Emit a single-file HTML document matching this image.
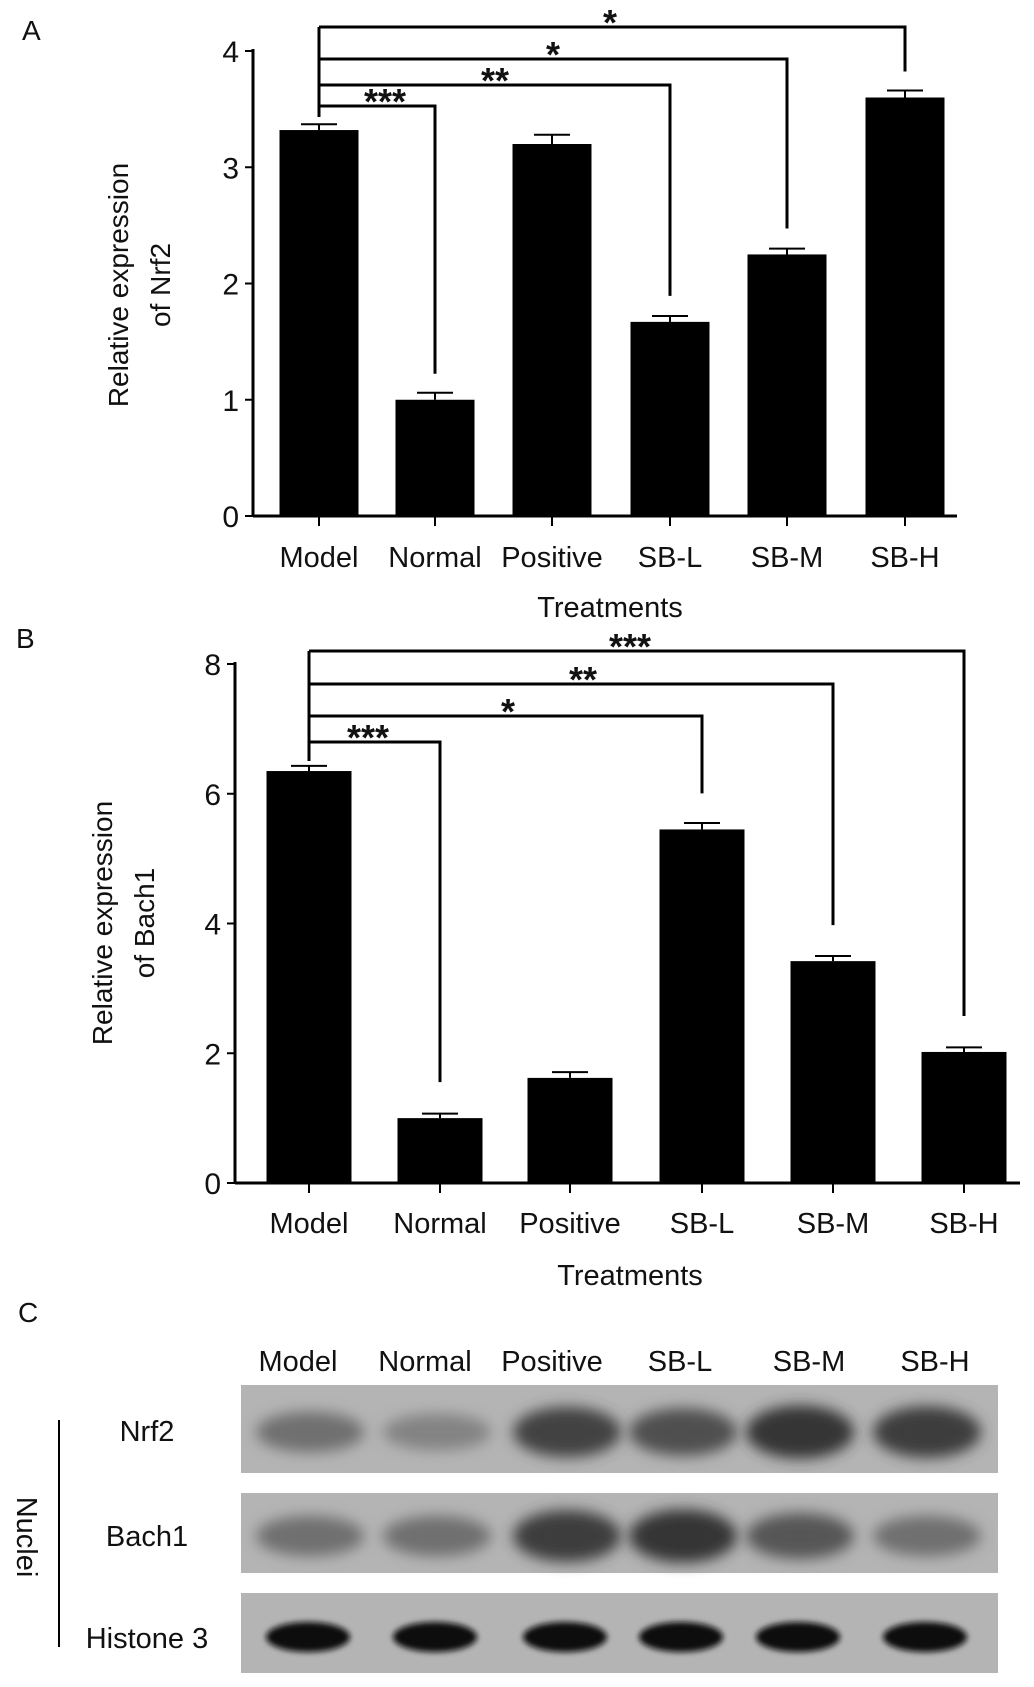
<!DOCTYPE html>
<html><head><meta charset="utf-8"><style>
html,body{margin:0;padding:0;background:#fff}
svg{display:block}
text{font-family:"Liberation Sans",sans-serif;fill:#111}
</style></head><body>
<svg id="fig" width="1034" height="1687" viewBox="0 0 1034 1687" xmlns="http://www.w3.org/2000/svg">
<defs>
<filter id="blur4" x="-50%" y="-80%" width="200%" height="260%"><feGaussianBlur stdDeviation="7"/></filter>
<filter id="blur2" x="-50%" y="-50%" width="200%" height="200%"><feGaussianBlur stdDeviation="3"/></filter>
</defs>
<text x="22" y="40" font-size="28">A</text>
<g id="chartA"></g>
<text x="16" y="648" font-size="28">B</text>
<g id="chartB"></g>
<text x="18" y="1322" font-size="28">C</text>
<g id="blot"></g>
</svg>
<script>
const categories = ["Model","Normal","Positive","SB-L","SB-M","SB-H"];
const nrf2Values = [3.32, 1.0, 3.2, 1.67, 2.25, 3.6];
const nrf2Errors = [0.05, 0.06, 0.08, 0.05, 0.05, 0.06];
const nrf2Ticks = [0,1,2,3,4];
const nrf2Sig = [{to:1,label:"***"},{to:3,label:"**"},{to:4,label:"*"},{to:5,label:"*"}];
const bach1Values = [6.35, 1.0, 1.62, 5.45, 3.42, 2.02];
const bach1Errors = [0.08, 0.07, 0.09, 0.1, 0.08, 0.07];
const bach1Ticks = [0,2,4,6,8];
const bach1Sig = [{to:1,label:"***"},{to:3,label:"*"},{to:4,label:"**"},{to:5,label:"***"}];
const blotRows = ["Nrf2","Bach1","Histone 3"];
const nrf2Band = [0.45, 0.3, 0.8, 0.7, 0.9, 0.85];
const bach1Band = [0.45, 0.45, 0.85, 0.9, 0.65, 0.45];
const histoneBand = [1,1,1,1,1,1];

const NS="http://www.w3.org/2000/svg";
function mk(parent, tag, attrs){const e=document.createElementNS(NS,tag);for(const k in attrs)e.setAttribute(k,attrs[k]);parent.appendChild(e);return e;}

function drawChart(g, cfg){
  const yS=v=>cfg.y0-(v/cfg.max)*(cfg.y0-cfg.yTop);
  const xS=i=>cfg.cx[i];
  let a=mk(g,"line",{x1:cfg.ax,y1:cfg.yTop-2,x2:cfg.ax,y2:cfg.y0,stroke:"#000","stroke-width":3});
  
  
  a=mk(g,"line",{x1:cfg.ax,y1:cfg.y0,x2:cfg.axEnd,y2:cfg.y0,stroke:"#000","stroke-width":3});
  
  
  cfg.ticks.forEach(t=>{
    const y=yS(t);
    const l=mk(g,"line",{x1:cfg.ax-8,y1:y,x2:cfg.ax,y2:y,stroke:"#000","stroke-width":2});
    
    
    const tx=mk(g,"text",{x:cfg.ax-14,y:y+11,"font-size":30,"text-anchor":"end"});
    tx.textContent=t;
    
    
  });
  cfg.values.forEach((v,i)=>{
    const cx=xS(i), w=cfg.bw;
    const r=mk(g,"rect",{x:cx-w/2,y:yS(v),width:w,height:cfg.y0-yS(v),fill:"#000"});
    
    
    const ye=yS(v+cfg.err[i]);
    const e1=mk(g,"path",{d:`M${cx},${yS(v)} V${ye} M${cx-18},${ye} H${cx+18}`,stroke:"#000","stroke-width":2,fill:"none"});
    
    
    const tk=mk(g,"line",{x1:cx,y1:cfg.y0,x2:cx,y2:cfg.y0+10,stroke:"#000","stroke-width":2});
    
    
    const lb=mk(g,"text",{x:cx,y:cfg.labY,"font-size":29,"text-anchor":"middle"});
    lb.textContent=categories[i];
    
    
  });
  const tt=mk(g,"text",{x:cfg.ttX,y:cfg.ttY,"font-size":29,"text-anchor":"middle"});
  tt.textContent="Treatments";
  
  
  const yt=mk(g,"text",{transform:`translate(${cfg.ytX},${cfg.ytY}) rotate(-90)`,"font-size":28,"text-anchor":"middle"});
  
  
  const t1=mk(yt,"tspan",{x:0,dy:0});t1.textContent="Relative expression";
  const t2=mk(yt,"tspan",{x:0,dy:42});t2.textContent=cfg.ytitle2;
  const x0=xS(0);
  const topY=Math.min(...cfg.sigY);
  const v=mk(g,"line",{x1:x0,y1:topY,x2:x0,y2:cfg.modelDrop,stroke:"#000","stroke-width":3});
  
  
  cfg.sig.forEach((s,k)=>{
    const y=cfg.sigY[k], x1=xS(s.to);
    const p=mk(g,"path",{d:`M${x0},${y} H${x1} V${yS(cfg.values[s.to])-cfg.dropGap}`,stroke:"#000","stroke-width":3,fill:"none"});
    
    
    const st=mk(g,"text",{x:cfg.starX[k],y:y+8,"font-size":36,"font-weight":"bold","text-anchor":"middle"});
    st.textContent=s.label;
    
    
  });
}

drawChart(document.getElementById("chartA"),{
  values:nrf2Values, err:nrf2Errors, ticks:nrf2Ticks, sig:nrf2Sig, max:4,
  ax:253, axEnd:957, y0:516, yTop:51, cx:[319,435,552,670,787,905], bw:79,
  labY:567, ttX:610, ttY:617, ytX:128, ytY:285, ytitle2:"of Nrf2",
  sigY:[106,85,59,27], modelDrop:117, dropGap:26, starX:[385,495,553,610]
});
drawChart(document.getElementById("chartB"),{
  values:bach1Values, err:bach1Errors, ticks:bach1Ticks, sig:bach1Sig, max:8,
  ax:235, axEnd:1020, y0:1183, yTop:664, cx:[309,440,570,702,833,964], bw:85,
  labY:1233, ttX:630, ttY:1285, ytX:112, ytY:923, ytitle2:"of Bach1",
  sigY:[742,716,684,651], modelDrop:761, dropGap:36, starX:[368,508,583,630]
});

const blot=document.getElementById("blot");
const lanes=[310,437,567,683,800,927];
const colLabelX=[298,425,552,680,809,935];
categories.forEach((c,i)=>{
  const t=mk(blot,"text",{x:colLabelX[i],y:1371,"font-size":29,"text-anchor":"middle"});
  t.textContent=c;
  
  
});
const rowBox=[[1385,88],[1493,80],[1593,80]];
const rowLabY=[1441,1546,1648];
const bandSets=[nrf2Band,bach1Band,histoneBand];
blotRows.forEach((r,k)=>{
  const [y,h]=rowBox[k];
  const box=mk(blot,"rect",{x:241,y:y,width:757,height:h,fill:"#b4b4b4"});
  
  
  const cy=y+h/2+(k===2?4:3);
  bandSets[k].forEach((b,i)=>{
    let el;
    if(k===2){
      el=mk(blot,"ellipse",{cx:lanes[i]-2,cy:cy,rx:42,ry:15,fill:"#111",filter:"url(#blur2)"});
    }else{
      const g=Math.round(170-b*130);
      el=mk(blot,"ellipse",{cx:lanes[i],cy:cy,rx:54,ry:14+b*14,fill:`rgb(${g},${g},${g})`,filter:"url(#blur4)"});
    }
    
    
  });
  const t=mk(blot,"text",{x:147,y:rowLabY[k],"font-size":29,"text-anchor":"middle"});
  t.textContent=r;
  
  
});
const vl=mk(blot,"line",{x1:59,y1:1420,x2:59,y2:1647,stroke:"#000","stroke-width":2});


const nu=mk(blot,"text",{transform:"translate(17,1537) rotate(90)","font-size":29,"text-anchor":"middle"});
nu.textContent="Nuclei";


</script>
</body></html>
